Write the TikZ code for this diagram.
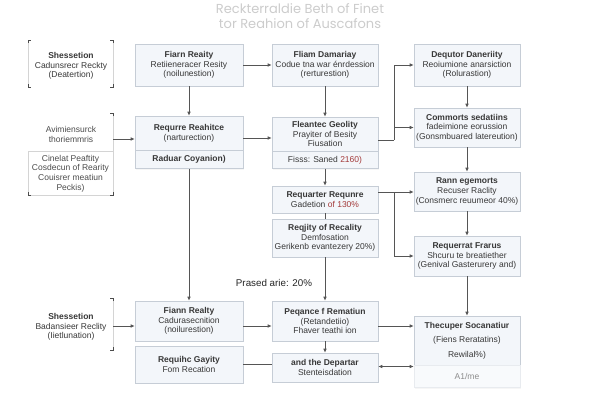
\documentclass[tikz,border=0pt]{standalone}
\usepackage{fontspec}
\setmainfont{Liberation Sans}
\newfontfamily\titlefont{Poppins}
\usetikzlibrary{arrows.meta,positioning,shadows}
\definecolor{boxfill}{HTML}{F3F6FA}
\definecolor{boxline}{HTML}{C6CDD6}
\definecolor{wirecol}{HTML}{555555}
\definecolor{numred}{HTML}{A33A3A}
\definecolor{framegray}{HTML}{D4D4D4}
\begin{document}
\begin{tikzpicture}[x=1pt,y=-1pt]
\tikzstyle{every node}=[font=\fontsize{8.5}{9.7}\selectfont, text=black!78, align=center]
\tikzstyle{box}=[draw=boxline, fill=boxfill, line width=0.6pt, inner sep=1pt, drop shadow={opacity=0.07, shadow xshift=0.8pt, shadow yshift=-1pt}]
\tikzstyle{wide}=[box, minimum width=108pt]
\tikzstyle{narrow}=[box, minimum width=106pt]
\tikzstyle{link}=[draw=wirecol, line width=0.7pt]
\tikzstyle{arr}=[link, -{Latex[length=4pt,width=3.6pt]}]
\tikzstyle{tick}=[draw=black!70, line width=0.9pt]
\useasboundingbox (0,0) rectangle (600,400);
\fill[white] (0,0) rectangle (600,400);

% title
\node[font=\titlefont\fontsize{13}{15.5}\selectfont, text=black!20] (title) at (300,16) {Reckterraldie Beth of Finet\\tor Reahion of Auscafons};

% left column
\node (shess) at (71,66) {\textbf{Shessetion}\\Cadunsrecr Reckty\\(Deatertion)};
\draw[framegray] (28,40) -- (28,87) (113,40) -- (113,87);
\foreach \cx/\cy/\dx/\dy in {28/40/1/1, 113/40/-1/1, 28/87/1/-1, 113/87/-1/-1}
  \draw[tick] (\cx,\cy+3*\dy) -- (\cx,\cy) -- (\cx+3*\dx,\cy);

\node[text=black!70] (avim) at (71,134.5) {Avimiensurck\\thoriemmris};
\node[draw=framegray, minimum width=85pt, minimum height=43pt, text=black!70] (cinelat) at (70.5,173.5) {Cinelat Peaftity\\Cosdecun of Rearity\\Couisrer meatiun\\Peckis)};
\draw[framegray] (113,113) -- (113,195);
\foreach \cx/\cy/\dx/\dy in {113/113/-1/1, 28/195/1/-1, 113/195/-1/-1}
  \draw[tick] (\cx,\cy+3*\dy) -- (\cx,\cy) -- (\cx+3*\dx,\cy);
\coordinate (avimR) at (113,139);

\node (shessb) at (71,327) {\textbf{Shessetion}\\Badansieer Reclity\\(Iietlunation)};
\draw[framegray] (113,298) -- (113,350);
\foreach \cx/\cy/\dy in {113/298/1, 113/350/-1}
  \draw[tick] (\cx,\cy+3*\dy) -- (\cx,\cy) -- (\cx-3,\cy);
\coordinate (shessbR) at (113,326);

% column 1
\node[wide, minimum height=42pt] (fiarn) at (189,65) {\textbf{Fiarn Reaity}\\Retiieneracer Resity\\(noilunestion)};
\node[wide, minimum height=34pt] (requrre) at (189,133) {\textbf{Requrre Reahitce}\\(narturection)};
\node[wide, minimum height=18pt, below=0pt of requrre] (raduar) {\textbf{Raduar Coyanion)}};
\node[wide, minimum height=40pt] (fiann) at (189,321) {\textbf{Fiann Realty}\\Cadurasecnition\\(noilurestion)};
\node[wide, minimum height=37pt] (requihc) at (189,364.5) {\textbf{Requihc Gayity}\\Fom Recation};

% column 2
\node[narrow, minimum height=42pt] (fliam) at (325,65) {\textbf{Fliam Damariay}\\Codue tna war énrdession\\(rerturestion)};
\node[narrow, minimum height=34pt] (fleantec) at (325,134) {\textbf{Fleantec Geolity}\\Prayiter of Besity\\Fiusation};
\node[narrow, minimum height=17pt, below=0pt of fleantec] (fisss) {Fisss: Saned \textcolor{numred}{2160)}};
\node[narrow, minimum height=27pt] (requarter) at (325,199.5) {\textbf{Requarter Requnre}\\Gadetion \textcolor{numred}{of 130\%}};
\node[narrow, minimum height=38pt] (reqjity) at (325,238) {\textbf{Reqjity of Recality}\\Demfosation\\Gerikenb evantezery 20\%)};
\node[font=\fontsize{9.8}{11}\selectfont, text=black!85] (prased) at (274,283) {Prased arie: 20\%};
\node[narrow, minimum height=40pt] (peqance) at (325,321) {\textbf{Peqance f Rematiun}\\(Retandetiio)\\Fhaver teathi ion};
\node[narrow, minimum height=29pt] (departar) at (325,367.5) {\textbf{and the Departar}\\Stenteisdation};

% column 3
\node[narrow, minimum height=42pt] (dequtor) at (467,65) {\textbf{Dequtor Daneriity}\\Reoiumione anarsiction\\(Rolurastion)};
\node[narrow, minimum height=39pt] (commorts) at (467,127.5) {\textbf{Commorts sedatiins}\\fadeimione eorussion\\(Gonsmbuared latereution)};
\node[narrow, minimum height=39pt] (rann) at (467,191.5) {\textbf{Rann egemorts}\\Recuser Raclity\\(Consmerc reuumeor 40\%)};
\node[narrow, minimum height=40pt] (requerrat) at (467,256) {\textbf{Requerrat Frarus}\\Shcuru te breatiether\\(Genival Gasterurery and)};
\node[narrow, minimum height=49pt] (thecuper) at (467,340.5) {\textbf{Thecuper Socanatiur}\\[5pt](Fiens Reratatins)\\[5pt]Rewilal\%)};
\node[narrow, minimum height=22pt, draw=boxline!40, fill=boxfill!55, drop shadow={opacity=0}, below=0pt of thecuper, text=black!45] (alme) {A1/me};

% connectors
\draw[arr] (avimR) -- (avimR -| requrre.west);
\draw[arr] (shessbR) -- (shessbR -| fiann.west);
\draw[arr] (fiarn) -- (requrre);
\draw[arr] (raduar) -- (fiann);
\draw[arr] (fiarn) -- (fliam);
\draw[arr] ([yshift=-5pt]requrre.east) -- ([yshift=-5pt]requrre.east -| fleantec.west);
\draw[arr] (fliam) -- (fleantec);
\draw[arr] (fisss) -- (requarter);
\draw[link] (requarter) -- (reqjity);
\draw[arr] (reqjity) -- (peqance);
\draw[arr] ([yshift=-5pt]fiann.east) -- ([yshift=-5pt]fiann.east -| peqance.west);
\draw[arr] (peqance) -- (departar);
\draw[link] (requihc.east) -- (requihc.east -| departar.west);
\draw[arr, {Latex[length=4pt,width=3.6pt]}-{Latex[length=4pt,width=3.6pt]}] ([yshift=1pt]departar.east) -- ([yshift=1pt]departar.east -| thecuper.west);
\draw[arr] ([yshift=-5pt]peqance.east) -- ([yshift=-5pt]peqance.east -| thecuper.west);

\coordinate (fjoin) at (394,140);
\draw[link] (fleantec.east |- fjoin) -- (fjoin);
\draw[arr] (fjoin) |- (dequtor.west);
\draw[arr] (fjoin |- commorts.west) -- (commorts.west);
\coordinate (gjoin) at (394,192);
\draw[arr] (requarter.east |- gjoin) -- (gjoin -| rann.west);
\draw[arr] (gjoin) |- (requerrat.west);

\foreach \a/\b in {dequtor/commorts, commorts/rann, rann/requerrat, requerrat/thecuper}
  \draw[arr] (\a) -- (\b);
\end{tikzpicture}
\end{document}
